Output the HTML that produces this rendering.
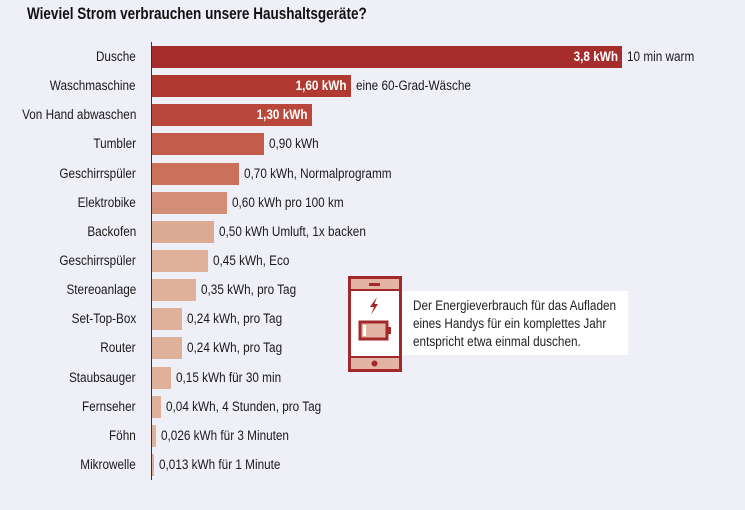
<!DOCTYPE html>
<html><head><meta charset="utf-8"><style>
body{margin:0;width:745px;height:510px;background:#efeff8;font-family:"Liberation Sans",sans-serif;position:relative;overflow:hidden;color:#1a1a1a}
.t{position:absolute;left:27px;top:5px;font-size:16.5px;font-weight:bold;color:#111;transform:scaleX(0.82);transform-origin:0 0;white-space:nowrap}
.ax{position:absolute;left:151px;top:42px;width:1px;height:438px;background:#333}
.l{position:absolute;right:609px;font-size:13.5px;white-space:nowrap;line-height:16px;transform:scaleX(0.87);transform-origin:100% 0}
.b{position:absolute;left:152px;height:22px}
.v{position:absolute;font-size:13.5px;white-space:nowrap;line-height:16px;transform:scaleX(0.87);transform-origin:0 0}
.in{color:#fff;font-weight:bold;transform-origin:100% 0}
.info{position:absolute;left:413px;top:297px;font-size:13.5px;line-height:18px;color:#222;transform:scaleX(0.87);transform-origin:0 0;white-space:nowrap}
</style></head><body>
<div class="t">Wieviel Strom verbrauchen unsere Haushaltsgeräte?</div>
<div class="ax"></div>
<div id="c"></div>
<div style="position:absolute;left:400px;top:291px;width:228px;height:64px;background:#fff"></div>
<div class="info">Der Energieverbrauch für das Aufladen<br>eines Handys für ein komplettes Jahr<br>entspricht etwa einmal duschen.</div>
<svg style="position:absolute;left:0;top:0" width="745" height="510">
<rect x="349.5" y="277.5" width="51" height="93" fill="#fff" stroke="#a3282a" stroke-width="3"/>
<rect x="351" y="279" width="48" height="11" fill="#e3b3a3"/>
<rect x="351" y="358" width="48" height="11" fill="#e3b3a3"/>
<line x1="351" y1="290" x2="399" y2="290" stroke="#a3282a" stroke-width="2"/>
<line x1="351" y1="357" x2="399" y2="357" stroke="#a3282a" stroke-width="2"/>
<rect x="369" y="283" width="11" height="3" fill="#a3282a"/>
<circle cx="374.5" cy="363.5" r="3" fill="#a3282a"/>
<path d="M377 297 L370 307 L374 307 L371 315 L378 304 L374.5 304 Z" fill="#a3282a"/>
<rect x="360" y="322" width="27" height="17" fill="#e3b3a3" stroke="#a3282a" stroke-width="3"/>
<rect x="387" y="327" width="4" height="7" fill="#a3282a"/>
<rect x="363" y="325" width="3" height="11" fill="#fff"/>
</svg>
<script>
var d=[["Dusche",622,"#a62d2b","3,8 kWh","10 min warm"],["Waschmaschine",351,"#b03a31","1,60 kWh","eine 60-Grad-Wäsche"],["Von Hand abwaschen",312,"#b9473c","1,30 kWh",""],["Tumbler",264,"#c35d4b","","0,90 kWh"],["Geschirrspüler",239,"#cb715a","","0,70 kWh, Normalprogramm"],["Elektrobike",227,"#d38e77","","0,60 kWh pro 100 km"],["Backofen",214,"#dcaa93","","0,50 kWh Umluft, 1x backen"],["Geschirrspüler",208,"#dfb09a","","0,45 kWh, Eco"],["Stereoanlage",196,"#dfb09a","","0,35 kWh, pro Tag"],["Set-Top-Box",182,"#dfb09a","","0,24 kWh, pro Tag"],["Router",182,"#dfb09a","","0,24 kWh, pro Tag"],["Staubsauger",171,"#dfb09a","","0,15 kWh für 30 min"],["Fernseher",161,"#dfb09a","","0,04 kWh, 4 Stunden, pro Tag"],["Föhn",156,"#dfb09a","","0,026 kWh für 3 Minuten"],["Mikrowelle",154,"#dfb09a","","0,013 kWh für 1 Minute"]];
var h="";
d.forEach(function(r,i){var cy=57+i*29.14;
h+='<div class="l" style="top:'+(cy-8)+'px">'+r[0]+'</div>';
h+='<div class="b" style="top:'+(cy-11)+'px;width:'+(r[1]-152)+'px;background:'+r[2]+'"></div>';
if(r[3])h+='<div class="v in" style="top:'+(cy-8)+'px;right:'+(745-r[1]+4)+'px">'+r[3]+'</div>';
if(r[4])h+='<div class="v" style="top:'+(cy-8)+'px;left:'+(r[1]+5)+'px">'+r[4]+'</div>';});
document.getElementById("c").innerHTML=h;
</script>
</body></html>
